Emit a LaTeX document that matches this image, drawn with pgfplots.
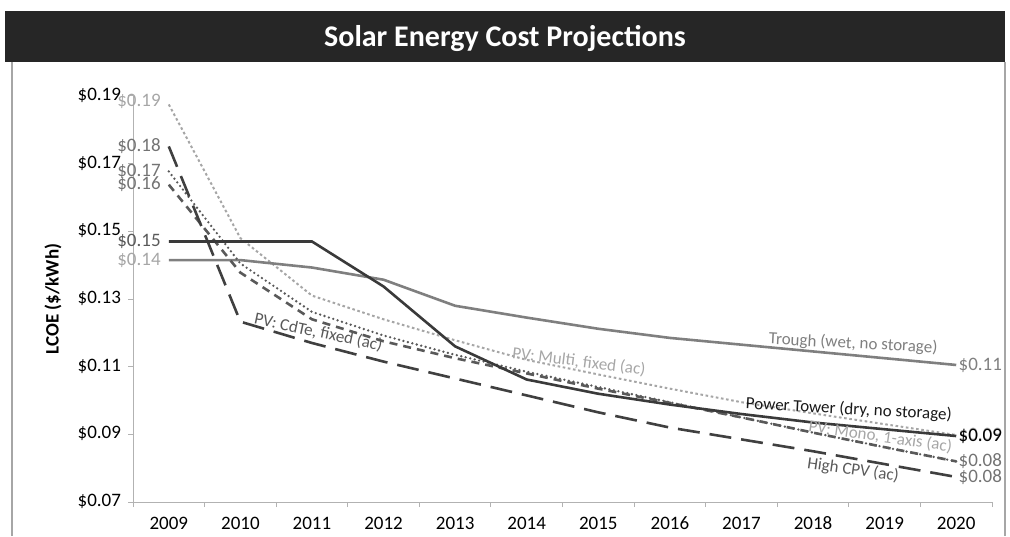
\documentclass[border=0pt]{standalone}
\usepackage{fontspec}
\setmainfont{Carlito}
\usepackage{pgfplots}
\pgfplotsset{compat=1.18}
\usepackage{pgfplotstable}

\definecolor{cTrough}{HTML}{7F7F7F}
\definecolor{cTower}{HTML}{3A3A3A}
\definecolor{cMulti}{HTML}{A6A6A6}
\definecolor{cMono}{HTML}{595959}
\definecolor{cCdTe}{HTML}{595959}
\definecolor{cCPV}{HTML}{404040}

\pgfplotstableread{
year trough tower multi mono cdte cpv
2009 0.1415 0.1470 0.1875 0.1677 0.1638 0.1751
2010 0.1415 0.1470 0.1480 0.1405 0.1378 0.1233
2011 0.1393 0.1470 0.1310 0.1262 0.1240 0.1170
2012 0.1357 0.1337 0.1240 0.1192 0.1175 0.1115
2013 0.1280 0.1160 0.1178 0.1135 0.1125 0.1065
2014 0.1245 0.1062 0.1120 0.1085 0.1080 0.1015
2015 0.1212 0.1020 0.1077 0.1040 0.1035 0.0965
2016 0.1185 0.0988 0.1035 0.0995 0.0993 0.0920
2017 0.1165 0.0960 0.0995 0.0950 0.0950 0.0885
2018 0.1145 0.0935 0.0962 0.0905 0.0905 0.0850
2019 0.1125 0.0915 0.0930 0.0862 0.0862 0.0812
2020 0.1105 0.0895 0.0898 0.0820 0.0820 0.0774
}\lcoe

\begin{document}
\begin{tikzpicture}[x=1pt,y=1pt]
\path[use as bounding box] (0,0) rectangle (505,268);
\fill[black!85] (2.5,237) rectangle (502.5,262.5);
\node[text=white,font=\fontsize{15}{17}\selectfont\bfseries] at (252.5,249) {Solar Energy Cost Projections};
\draw[gray!70, line width=0.6pt] (6,0) -- (6,237) (502.5,0) -- (502.5,237);
\begin{axis}[
  at={(66.5pt,17pt)}, anchor=south west, scale only axis,
  width=429.5pt, height=203pt,
  xmin=2008.5, xmax=2020.5, ymin=0.07, ymax=0.19,
  axis lines*=left, axis line style={gray!60, line width=0.5pt},
  tick align=outside, tick style={gray!60, line width=0.5pt}, major tick length=2.5pt,
  ytick={0.07,0.09,0.11,0.13,0.15,0.17,0.19},
  yticklabels={\$0.07,\$0.09,\$0.11,\$0.13,\$0.15,\$0.17,\$0.19},
  xtick={2008.5,2009.5,2010.5,2011.5,2012.5,2013.5,2014.5,2015.5,2016.5,2017.5,2018.5,2019.5,2020.5},
  xticklabels={},
  extra x ticks={2009,2010,2011,2012,2013,2014,2015,2016,2017,2018,2019,2020},
  extra x tick labels={2009,2010,2011,2012,2013,2014,2015,2016,2017,2018,2019,2020},
  extra x tick style={major tick length=0pt, xticklabel style={yshift=-2.5pt}},
  typeset ticklabels with strut,
  tick label style={font=\fontsize{9.5}{11}\selectfont, text=black},
  ylabel={LCOE (\$/kWh)},
  ylabel style={font=\fontsize{9.5}{11}\selectfont\bfseries, at={(axis description cs:-0.093,0.5)}, anchor=center},
  clip=false,
]
\addplot[cMulti, line width=1pt, dash pattern=on 1.3pt off 1.3pt] table[x=year,y=multi]{\lcoe};
\addplot[cTrough, line width=1.3pt] table[x=year,y=trough]{\lcoe};
\addplot[cMono, line width=1.3pt, line cap=round, dash pattern=on 0pt off 2.3pt] table[x=year,y=mono]{\lcoe};
\addplot[cCdTe, line width=1.3pt, dash pattern=on 4pt off 3pt] table[x=year,y=cdte]{\lcoe};
\addplot[cCPV, line width=1.3pt, dash pattern=on 11pt off 5pt] table[x=year,y=cpv]{\lcoe};
\addplot[cTower, line width=1.3pt] table[x=year,y=tower]{\lcoe};

% start value labels
\begin{scope}[every node/.style={font=\fontsize{9.5}{11}\selectfont, inner sep=1pt}]
\node[anchor=east, text=cMulti] at (axis cs:2008.92,0.1885) {\$0.19};
\node[anchor=east, text=black!55] at (axis cs:2008.92,0.1751) {\$0.18};
\node[anchor=east, text=black!55] at (axis cs:2008.92,0.1677) {\$0.17};
\node[anchor=east, text=black!55] at (axis cs:2008.92,0.1638) {\$0.16};
\node[anchor=east, text=black!65] at (axis cs:2008.92,0.1470) {\$0.15};
\node[anchor=east, text=cMulti] at (axis cs:2008.92,0.1415) {\$0.14};
% end value labels
\node[anchor=west, text=black!50] at (axis cs:2020,0.1105) {\$0.11};
\node[anchor=west, text=cMulti] at (axis cs:2020,0.0898) {\$0.09};
\node[anchor=west, text=black] at (axis cs:2020,0.0895) {\$0.09};
\node[anchor=west, text=black!55] at (axis cs:2020,0.0820) {\$0.08};
\node[anchor=west, text=black!55] at (axis cs:2020,0.0774) {\$0.08};
\end{scope}

% series names
\begin{scope}[every node/.style={font=\fontsize{8.5}{10}\selectfont, inner sep=0pt}]
\node[text=cTrough, rotate=-3] at (axis cs:2018.56,0.1168) {Trough (wet, no storage)};
\node[text=black!90, rotate=-3] at (axis cs:2018.50,0.0973) {Power Tower (dry, no storage)};
\node[text=cMulti, rotate=-7] at (axis cs:2014.73,0.1115) {PV: Multi, fixed (ac)};
\node[text=cMulti, rotate=-8] at (axis cs:2018.94,0.0893) {PV: Mono, 1-axis (ac)};
\node[text=cCdTe, rotate=-12] at (axis cs:2011.09,0.1201) {PV: CdTe, fixed (ac)};
\node[text=cCdTe, rotate=-8] at (axis cs:2018.56,0.0795) {High CPV (ac)};
\end{scope}
\end{axis}
\end{tikzpicture}
\end{document}
